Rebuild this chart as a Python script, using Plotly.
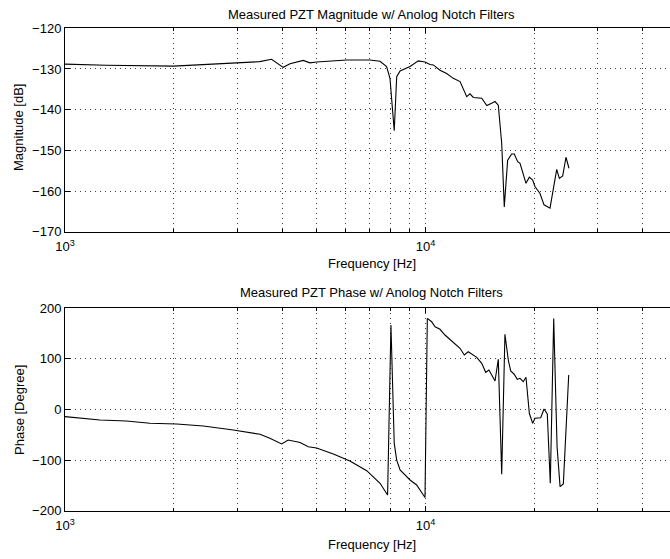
import plotly.graph_objects as go
from plotly.subplots import make_subplots

# ---------------- data ----------------
freq_mag = [1000, 1300, 2000, 3050, 3470, 3740, 4030, 4210, 4580, 4780, 4990,
            6040, 7000, 7480, 7800, 7970, 8190, 8320, 8500, 9060, 9550, 9970,
            10290, 10510, 10740, 10970, 11450, 11940, 12470, 13010, 13290, 13570,
            14320, 14790, 15260, 15590, 15920, 16270, 16540, 16900, 17340, 17630,
            18020, 18290, 19000, 19410, 19830, 20120, 20780, 21320, 22150, 23120,
            23510, 24020, 24530, 25000]
magnitude_db = [-128.8, -129.1, -129.3, -128.6, -128.2, -127.6, -129.6, -128.7, -127.9, -128.5, -128.3,
                -127.8, -127.8, -128.1, -129.4, -132.3, -145.2, -131.9, -130.5, -129.4, -128.0, -128.3,
                -128.9, -129.0, -129.6, -130.3, -131.1, -132.3, -133.1, -136.8, -136.1, -137.0,
                -137.2, -139.0, -138.4, -138.0, -138.9, -148.3, -163.9, -152.4, -150.9, -150.9,
                -152.8, -153.2, -158.1, -156.6, -157.3, -158.9, -160.6, -163.4, -164.2, -154.7,
                -156.9, -156.3, -151.7, -154.4]

freq_phase = [1000, 1250, 1480, 1720, 2040, 2420, 2930, 3260, 3475, 3700, 3870, 3990,
              4160, 4490, 4730, 4990, 5550, 6170, 6870, 7480, 7850, 8020, 8190, 8320,
              8500, 9060, 9450, 9968, 10116, 10400, 10630, 10970, 11325, 12075, 12465,
              12810, 13140, 13870, 14320, 14690, 15000, 15590, 15920, 16270, 16610,
              16970, 17230, 17600, 17970, 18290, 18670, 19000, 19410, 19830, 20120,
              20870, 21320, 21770, 22190, 22680, 23170, 23620, 24120, 24960]
phase_deg = [-14, -20.7, -22.7, -27.3, -28.7, -32.6, -40.5, -45.8, -49, -56.9, -63.6, -68,
             -60.3, -65.2, -73.5, -76, -87.9, -101.8, -120.9, -145.8, -169, 167, -67, -100,
             -119.5, -139.3, -149.2, -174, 180, 173.5, 163.6, 158.5, 147.2, 130.8, 120.9,
             107.7, 114.2, 103.1, 91.3, 73.5, 78, 56.3, 99.2, -128, 148.6,
             97.8, 76.1, 70.2, 59.7, 61.7, 55, 63.6, -7.5, -27.3, -17.4,
             -16.2, 1, -8.9, -145.8, 180, -73, -152.5, -147, 68]

x_major = [1000, 10000]
x_major_text = ["10<sup>3</sup>", "10<sup>4</sup>"]
x_minor = [2000, 3000, 4000, 5000, 6000, 7000, 8000, 9000, 20000, 30000, 40000]
mag_ticks = [-170, -160, -150, -140, -130, -120]
phase_ticks = [-200, -100, 0, 100, 200]

titles = ["Measured PZT Magnitude w/ Anolog Notch Filters",
          "Measured PZT Phase w/ Anolog Notch Filters"]
ylabels = ["Magnitude [dB]", "Phase [Degree]"]
xlabel = "Frequency [Hz]"

# ---------------- figure ----------------
W, H = 670, 559
L = 65
FONT = "Liberation Sans, Arial, Helvetica, sans-serif"
FS = 13

fig = make_subplots(rows=2, cols=1)
fig.add_trace(go.Scatter(x=freq_mag, y=magnitude_db, mode="lines",
                         line=dict(color="black", width=1.1), showlegend=False), row=1, col=1)
fig.add_trace(go.Scatter(x=freq_phase, y=phase_deg, mode="lines",
                         line=dict(color="black", width=1.1), showlegend=False), row=2, col=1)

top_px = [28.3, 308.3]
bot_px = [231.7, 510.7]
xmax_log = 3 + (W - L) / 360.5

grid_dash = "1px,4px"
grid_col = "rgba(0,0,0,0.75)"

for i, (yt, yb) in enumerate(zip(top_px, bot_px)):
    xa = "xaxis" if i == 0 else "xaxis2"
    ya = "yaxis" if i == 0 else "yaxis2"
    fig.layout[xa].update(
        type="log", range=[3, xmax_log], domain=[0, 1],
        tickvals=x_major, ticktext=x_major_text,
        ticks="inside", ticklen=5, tickcolor="black",
        showline=True, linecolor="black", linewidth=1, mirror="allticks",
        showgrid=True, gridcolor=grid_col, griddash=grid_dash, gridwidth=1,
        minor=dict(tickvals=x_minor, ticks="inside", ticklen=3, tickcolor="black",
                   showgrid=True, gridcolor=grid_col, griddash=grid_dash, gridwidth=1),
        tickfont=dict(family=FONT, size=FS, color="black"),
        ticklabelstandoff=3,
        zeroline=False, automargin=False,
    )
    yticks = mag_ticks if i == 0 else phase_ticks
    yrange = [-170, -120] if i == 0 else [-200, 200]
    fig.layout[ya].update(
        range=yrange, domain=[1 - yb / H, 1 - yt / H],
        tickvals=yticks, ticktext=[str(v).replace("-", "\u2212") for v in yticks],
        ticks="inside", ticklen=5, tickcolor="black",
        showline=True, linecolor="black", linewidth=1, mirror=False,
        showgrid=True, gridcolor=grid_col, griddash=grid_dash, gridwidth=1,
        tickfont=dict(family=FONT, size=FS, color="black"),
        zeroline=False, automargin=False,
    )

cx = (371.8 - L) / (W - L)
ann = []
for i in range(2):
    ann.append(dict(text=titles[i], x=cx, y=1 - [14, 292][i] / H, xref="paper", yref="paper",
                    showarrow=False, xanchor="center", yanchor="middle",
                    font=dict(family=FONT, size=FS, color="black")))
    ann.append(dict(text=xlabel, x=cx, y=1 - [263, 544][i] / H, xref="paper", yref="paper",
                    showarrow=False, xanchor="center", yanchor="middle",
                    font=dict(family=FONT, size=FS, color="black")))
    ann.append(dict(text=ylabels[i], x=(19 - L) / (W - L), y=1 - [128, 410][i] / H,
                    xref="paper", yref="paper", textangle=-90,
                    showarrow=False, xanchor="center", yanchor="middle",
                    font=dict(family=FONT, size=FS, color="black")))

fig.update_layout(
    width=W, height=H,
    margin=dict(l=L, r=0, t=0, b=0),
    paper_bgcolor="white", plot_bgcolor="white",
    annotations=ann,
    showlegend=False,
)

fig.write_html("out.html")
